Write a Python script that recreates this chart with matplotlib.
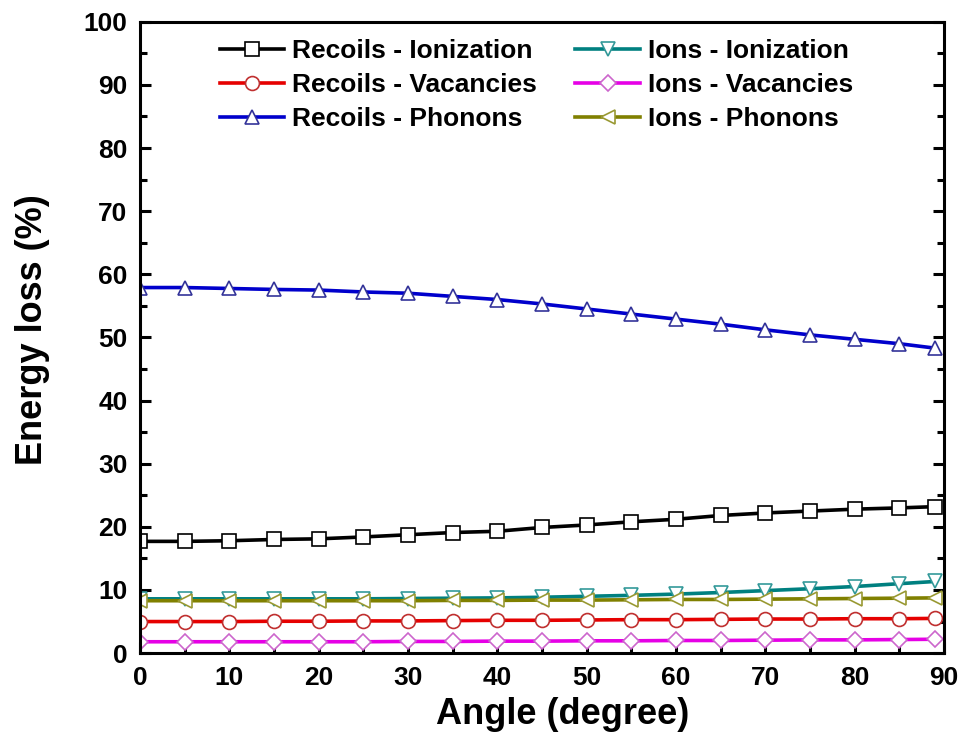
import matplotlib
matplotlib.use("Agg")
import matplotlib.pyplot as plt
from matplotlib.ticker import MultipleLocator

plt.rcParams['font.family'] = ['Liberation Sans', 'DejaVu Sans']
plt.rcParams['font.weight'] = 'bold'

angle = [0, 5, 10, 15, 20, 25, 30, 35, 40, 45, 50, 55, 60, 65, 70, 75, 80, 85, 89]

recoils_ion = [17.7, 17.7, 17.8, 18.0, 18.1, 18.4, 18.75, 19.1, 19.3, 19.9, 20.3, 20.8,
               21.2, 21.8, 22.2, 22.5, 22.8, 23.0, 23.2]
recoils_vac = [5.0, 5.0, 5.0, 5.05, 5.05, 5.1, 5.1, 5.15, 5.2, 5.2, 5.25, 5.3,
               5.3, 5.35, 5.4, 5.4, 5.45, 5.45, 5.5]
recoils_phon = [57.9, 57.9, 57.75, 57.6, 57.5, 57.2, 57.0, 56.5, 56.0, 55.3, 54.5, 53.7,
                52.9, 52.1, 51.2, 50.4, 49.7, 49.0, 48.3]
ions_ion = [8.6, 8.6, 8.6, 8.6, 8.6, 8.6, 8.65, 8.7, 8.75, 8.85, 9.0, 9.15,
            9.35, 9.6, 9.9, 10.2, 10.55, 11.0, 11.35]
ions_vac = [1.8, 1.8, 1.8, 1.8, 1.8, 1.8, 1.85, 1.85, 1.9, 1.9, 1.95, 1.95,
            2.0, 2.0, 2.05, 2.1, 2.1, 2.15, 2.2]
ions_phon = [8.3, 8.3, 8.3, 8.3, 8.3, 8.3, 8.3, 8.35, 8.35, 8.4, 8.4, 8.45,
             8.5, 8.5, 8.55, 8.6, 8.65, 8.7, 8.75]

series = [
    ("Recoils - Ionization", recoils_ion, "black", "black", "s"),
    ("Recoils - Vacancies", recoils_vac, "#e60000", "#c03030", "o"),
    ("Recoils - Phonons", recoils_phon, "#0000cc", "#333399", "^"),
    ("Ions - Ionization", ions_ion, "#008080", "#339999", "v"),
    ("Ions - Vacancies", ions_vac, "#e600e6", "#cc66cc", "D"),
    ("Ions - Phonons", ions_phon, "#808000", "#999933", "<"),
]

fig = plt.figure(figsize=(9.63, 7.49), dpi=100)
ax = fig.add_axes([0.1454, 0.128, 0.8350, 0.843])

for label, vals, col, edge, mk in series:
    ms = 8 if mk == "D" else 10
    ax.plot(angle, vals, color=col, lw=2.6, marker=mk, ms=ms,
            mfc="white", mec=edge, mew=1.2, label=label)

ax.set_xlim(0, 90)
ax.set_ylim(0, 100)
ax.xaxis.set_major_locator(MultipleLocator(10))
ax.xaxis.set_minor_locator(MultipleLocator(5))
ax.yaxis.set_major_locator(MultipleLocator(10))
ax.yaxis.set_minor_locator(MultipleLocator(5))
ax.tick_params(which="both", direction="in", width=2.2, right=True, top=False,
               labelsize=19, pad=9)
ax.tick_params(which="major", length=8)
ax.tick_params(which="minor", length=5)
for s in ax.spines.values():
    s.set_linewidth(2.2)

ax.set_xlabel("Angle (degree)", fontsize=26, fontweight="bold", labelpad=5)
ax.set_ylabel("Energy loss (%)", fontsize=26, fontweight="bold", labelpad=24)
ax.xaxis.label.set_x(0.525)
ax.yaxis.label.set_y(0.512)

ax.legend(ncol=2, frameon=False, loc="upper center", bbox_to_anchor=(0.493, 1.0),
          fontsize=19, handlelength=2.45, columnspacing=1.45, labelspacing=0.38,
          handletextpad=0.3, borderaxespad=0.25)

fig.savefig("out.png", dpi=100)
